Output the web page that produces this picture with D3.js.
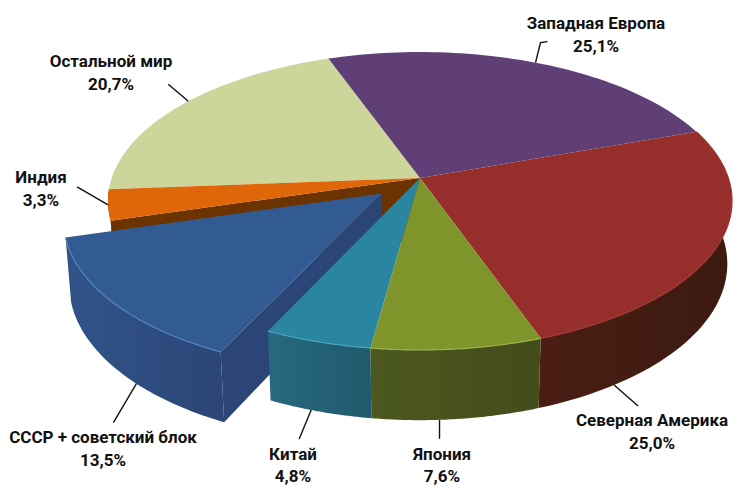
<!DOCTYPE html>
<html>
<head>
<meta charset="utf-8">
<script src="https://cdn.jsdelivr.net/npm/d3@7"></script>
<style>
    html, body { margin: 0; padding: 0; background: #fff; }
    text { font-family: Roboto, sans-serif; font-weight: 700; font-size: 17px; fill: #111; text-anchor: middle; }
</style>
</head>
<body>
<div id="chart"></div>
<script>
// Chart data, clockwise from the top
const regions = ["Западная Европа", "Северная Америка", "Япония", "Китай", "СССР + советский блок", "Индия", "Остальной мир"];
const shares = [25.1, 25.0, 7.6, 4.8, 13.5, 3.3, 20.7];
const shareLabels = ["25,1%", "25,0%", "7,6%", "4,8%", "13,5%", "3,3%", "20,7%"];

// colours per region
const topColors = ["#5f3f75", "#962f2c", "#7f952c", "#2a85a1", "#335b93", "#e0660a", "#cdd69a"];
const wallLight = ["#3f2a4e", "#4a1e14", "#4c5820", "#27697f", "#315489", "#7a3a05", "#8a9060"];
const wallDark = ["#3f2a4e", "#3c1a10", "#434c1b", "#1f5a6c", "#2b4576", "#6b3300", "#8a9060"];
const rimColors = ["none", "#a03a34", "#9db04a", "#4aa3bd", "#5583b9", "none", "none"];

const width = 736, height = 486;

// pie plane to screen, a plain perspective so the apex sits off the ellipse centre
const apex = {x: 420, y: 178};
const scaleU = 308.3, scaleV = 145.4, depth = 63;
const tilt = 0.1544, shrink = 0.015;
const explodeBy = 0.16;
const explodedRegion = "СССР + советский блок";

function project(u, v, z) {
    let w = 1 - tilt * v + shrink * z;
    return [apex.x + scaleU * u / w, apex.y + (scaleV * v + depth * z) / w];
}

const pie = d3.pie().sort(null)
    .startAngle(-19.9 * Math.PI / 180)
    .endAngle((360 - 19.9) * Math.PI / 180);

const slices = pie(shares).map((d, i) => {
    let mid = (d.startAngle + d.endAngle) / 2;
    let exploded = regions[i] === explodedRegion;
    return {
        i: i,
        a0: d.startAngle,
        a1: d.endAngle,
        ox: exploded ? explodeBy * Math.sin(mid) : 0,
        oy: exploded ? -explodeBy * Math.cos(mid) : 0
    };
});

// point on the rim of a slice
const rimPoint = (s, a, z) => project(s.ox + Math.sin(a), s.oy - Math.cos(a), z);
const apexPoint = (s, z) => project(s.ox, s.oy, z);
const rimPoints = (s, z) => d3.range(0, 61).map(k => rimPoint(s, s.a0 + (s.a1 - s.a0) * k / 60, z));

const line = d3.line();
const closed = pts => line(pts) + "Z";

const svg = d3.select("#chart").append("svg")
    .attr("width", width)
    .attr("height", height)
    .style("display", "block");

const defs = svg.append("defs");
regions.forEach((r, i) => {
    let g = defs.append("linearGradient").attr("id", "wall" + i);
    g.append("stop").attr("offset", "0%").attr("stop-color", wallLight[i]);
    g.append("stop").attr("offset", "100%").attr("stop-color", wallDark[i]);
});

// back to front; the pulled out slice goes under China and Japan
const drawOrder = ["Остальной мир", "Западная Европа", "Индия", "Северная Америка", "СССР + советский блок", "Китай", "Япония"];
// these two sit at the back, their outer wall can't be seen
const noWall = ["Остальной мир", "Западная Европа"];
// radial faces that can be seen: which edge of the slice
const radialFace = {"Индия": "a0", "СССР + советский блок": "a0"};

const pieGroup = svg.append("g").attr("class", "pie");

drawOrder.forEach(name => {
    let i = regions.indexOf(name);
    let s = slices[i];

    if (radialFace[name]) {
        let a = s[radialFace[name]];
        pieGroup.append("path")
            .attr("d", closed([apexPoint(s, 0), rimPoint(s, a, 0), rimPoint(s, a, 1), apexPoint(s, 1)]))
            .attr("fill", wallDark[i]);
    }

    // outer wall
    if (!noWall.includes(name)) {
        pieGroup.append("path")
            .attr("d", closed(rimPoints(s, 0).concat(rimPoints(s, 1).reverse())))
            .attr("fill", `url(#wall${i})`);
    }

    // top face
    pieGroup.append("path")
        .attr("d", closed([apexPoint(s, 0)].concat(rimPoints(s, 0))))
        .attr("fill", topColors[i]);

    // light bevel on the rim
    if (rimColors[i] !== "none") {
        pieGroup.append("path")
            .attr("d", line(rimPoints(s, 0)))
            .attr("fill", "none")
            .attr("stroke", rimColors[i])
            .attr("stroke-width", 1.2);
    }
});

// Labels: text centre and baselines, leader starts on the rim
const labelLayout = {
    "Западная Европа": {x: 596, y: 29, gap: 23, at: 0.5, z: 0, hook: [[5, -20], [12, -21]]},
    "Северная Америка": {x: 652, y: 426, gap: 23, at: 0.84, z: 1, hook: [[24, 21]]},
    "Япония": {x: 442, y: 460, gap: 22, at: 0.6, z: 1, hook: [[0, 19]]},
    "Китай": {x: 293, y: 460, gap: 22, at: 0.58, z: 1, hook: [[-12, 29]]},
    "СССР + советский блок": {x: 103, y: 443, gap: 23, at: 0.39, z: 1, hook: [[-23, 39]]},
    "Индия": {x: 41, y: 183, gap: 23, at: 0.5, z: 0, hook: [[-31, -18]]},
    "Остальной мир": {x: 111, y: 67, gap: 23, at: 0.53, z: 0, hook: [[-20, -17]]}
};

const labels = svg.append("g").attr("class", "labels");

regions.forEach((r, i) => {
    let l = labelLayout[r];
    let s = slices[i];
    let start = rimPoint(s, s.a0 + (s.a1 - s.a0) * l.at, l.z);

    labels.append("path")
        .attr("d", line([start].concat(l.hook.map(h => [start[0] + h[0], start[1] + h[1]]))))
        .attr("fill", "none")
        .attr("stroke", "#111")
        .attr("stroke-width", 1.4);

    labels.append("text").attr("x", l.x).attr("y", l.y).text(r);
    labels.append("text").attr("x", l.x).attr("y", l.y + l.gap).text(shareLabels[i]);
});
</script>
</body>
</html>
